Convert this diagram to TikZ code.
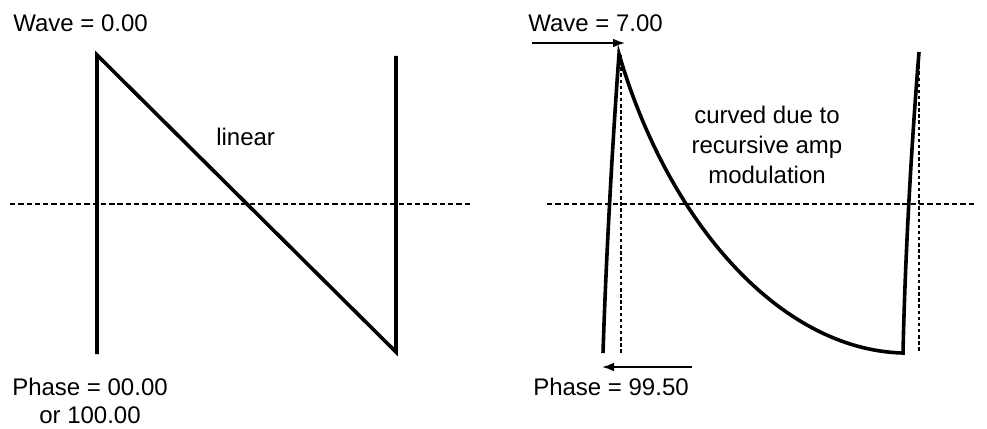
\documentclass[tikz,border=0pt]{standalone}
\usepackage{fontspec}
\setmainfont{Liberation Sans}
\usetikzlibrary{arrows.meta}

\begin{document}
\begin{tikzpicture}[
      x=0.75pt,y=-0.75pt,
      wave/.style={line width=2.7pt,line join=miter},
      zeroline/.style={line width=1.5pt,dash pattern=on 4pt off 2.2pt},
      guide/.style={line width=1.5pt,dash pattern=on 2.6pt off 2pt},
      marker/.style={line width=1.2pt,-{Latex[length=9pt,width=6.5pt]}},
      lbl/.style={inner sep=0pt,font=\fontsize{18}{22.5}\selectfont}
    ]
      \useasboundingbox (0,0) rectangle (987,428);
      % linear saw
      \coordinate (la) at (97,354);
      \coordinate (lb) at (97,55);
      \coordinate (lc) at (396,352);
      \coordinate (ld) at (396,56);
      \draw[zeroline] (10,204) -- (472,204);
      \draw[wave] (la) -- (lb) -- (lc) -- (ld);
      \node[lbl,anchor=base west] (wave0) at (13,32) {Wave = 0.00};
      \node[lbl,anchor=base west] (lin) at (216,145) {linear};
      \node[lbl,anchor=base,align=center,font=\fontsize{18}{21}\selectfont] (phase0) at (90,423)
        {Phase = 00.00\\or 100.00};
      % modulated saw
      \coordinate (ra) at (603,353);
      \coordinate (rb) at (619,54);
      \coordinate (rc) at (903,353);
      \coordinate (rd) at (919,52);
      \draw[zeroline] (547,204) -- (975,204);
      \draw[guide] (621,55) -- (621,353);
      \draw[guide] (919,53) -- (919,353);
      \draw[wave] (ra) .. controls (606,260) and (612,150) .. (rb)
        .. controls (668,222) and (780,350) .. (rc)
        .. controls (905,260) and (911,150) .. (rd);
      \node[lbl,anchor=base west] (wave7) at (528,32) {Wave = 7.00};
      \node[lbl,anchor=base west] (phase99) at (533,395) {Phase = 99.50};
      \node[lbl,anchor=base,align=center] (curved) at (767,183)
        {curved due to\\recursive amp\\modulation};
      \coordinate (ws) at (532,43);
      \coordinate (we) at (625,43);
      \coordinate (ps) at (692,367);
      \coordinate (pe) at (602,367);
      \draw[marker] (ws) -- (we);
      \draw[marker] (ps) -- (pe);
    \end{tikzpicture}
\end{document}
